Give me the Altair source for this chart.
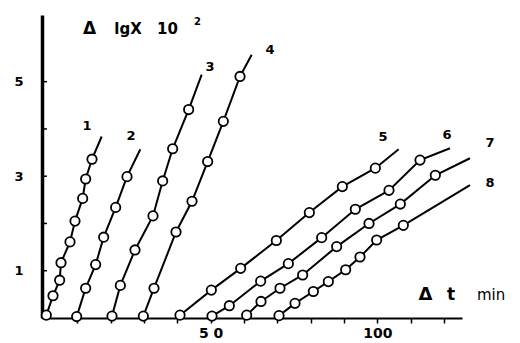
import altair as alt
import pandas as pd

# circle data points of each curve (x = delta t, min ; y = delta lgX * 10^2)
s1_x = [0.7, 2.7, 4.7, 5.1, 7.8, 9.3, 11.6, 12.5, 14.4]
s1_y = [0.06, 0.47, 0.80, 1.17, 1.61, 2.05, 2.53, 2.94, 3.36]
s2_x = [9.8, 12.5, 15.5, 17.9, 21.5, 24.9]
s2_y = [0.03, 0.63, 1.13, 1.71, 2.34, 2.99]
s3_x = [20.4, 22.9, 27.3, 32.7, 35.6, 38.6, 43.4]
s3_y = [0.04, 0.69, 1.44, 2.16, 2.90, 3.58, 4.41]
s4_x = [29.8, 33.0, 39.6, 44.4, 49.1, 53.8, 58.8]
s4_y = [0.04, 0.63, 1.82, 2.47, 3.31, 4.16, 5.11]
s5_x = [40.8, 50.2, 59.0, 69.7, 79.6, 89.5, 99.4]
s5_y = [0.06, 0.59, 1.05, 1.64, 2.23, 2.78, 3.17]
s6_x = [50.4, 55.6, 65.0, 73.3, 83.3, 93.4, 103.5, 112.8]
s6_y = [0.04, 0.26, 0.78, 1.15, 1.70, 2.30, 2.70, 3.34]
s7_x = [60.8, 65.1, 70.8, 77.6, 87.8, 97.5, 106.9, 117.4]
s7_y = [0.06, 0.35, 0.63, 0.91, 1.51, 2.00, 2.41, 3.02]
s8_x = [70.5, 75.3, 80.8, 85.3, 90.5, 94.8, 99.8, 107.8]
s8_y = [0.05, 0.31, 0.56, 0.77, 1.02, 1.29, 1.65, 1.96]

# where each drawn line ends (beyond its last point)
end_x = [17.3, 28.9, 47.3, 62.3, 106.4, 121.8, 127.8, 127.8]
end_y = [3.84, 3.57, 5.15, 5.57, 3.57, 3.59, 3.38, 2.81]

# curve number labels
series_names = ["1", "2", "3", "4", "5", "6", "7", "8"]
label_x = [12.9, 26.1, 49.8, 67.8, 101.7, 120.9, 133.8, 133.8]
label_y = [4.06, 3.85, 5.31, 5.67, 3.83, 3.87, 3.70, 2.85]

x_tick_values = [10, 20, 30, 40, 50, 60, 70, 80, 90, 100, 110, 120]
y_tick_values = [1, 2, 3, 4, 5]
y_label_values = [1, 3, 5]

xs = [s1_x, s2_x, s3_x, s4_x, s5_x, s6_x, s7_x, s8_x]
ys = [s1_y, s2_y, s3_y, s4_y, s5_y, s6_y, s7_y, s8_y]

pt_rows, line_rows = [], []
for i, name in enumerate(series_names):
    for x, y in zip(xs[i], ys[i]):
        pt_rows.append({"s": name, "x": x, "y": y})
        line_rows.append({"s": name, "x": x, "y": y})
    line_rows.append({"s": name, "x": end_x[i], "y": end_y[i]})
pts = pd.DataFrame(pt_rows)
lines = pd.DataFrame(line_rows)
labels = pd.DataFrame({"s": series_names, "x": label_x, "y": label_y})
yticks = pd.DataFrame({"y": y_tick_values})

FONT = "DejaVu Sans"

x_axis = alt.Axis(
    values=x_tick_values,
    labelExpr="datum.value == 50 ? '5 0' : (datum.value == 100 ? '100' : '')",
    title=None, grid=False, domainColor="black", domainWidth=2.2,
    tickColor="black", tickWidth=1.5, tickSize=5,
    labelFont=FONT, labelFontWeight="bold", labelFontSize=14, labelColor="black",
    labelPadding=3, labelOverlap=False, labelFlush=False,
)
y_axis = alt.Axis(
    values=y_label_values, ticks=False, title=None, grid=False,
    domainColor="black", domainWidth=3.5,
    labelFont=FONT, labelFontWeight="bold", labelFontSize=13, labelColor="black",
    labelPadding=19, labelOverlap=False, labelFlush=False,
)
x_scale = alt.Scale(domain=[-0.6, 125.4], nice=False, zero=False)
y_scale = alt.Scale(domain=[0, 6.41], nice=False, zero=False)

X = alt.X("x:Q", scale=x_scale, axis=x_axis)
Y = alt.Y("y:Q", scale=y_scale, axis=y_axis)

line_layer = alt.Chart(lines).mark_line(color="black", strokeWidth=2).encode(
    x=X, y=Y, detail="s:N", order="x:Q"
)
pt_layer = alt.Chart(pts).mark_point(
    shape="circle", filled=True, fill="white", stroke="black",
    strokeWidth=1.8, size=88, opacity=1
).encode(x=X, y=Y)
lab_layer = alt.Chart(labels).mark_text(
    font=FONT, fontWeight="bold", fontSize=13, color="black",
    align="center", baseline="middle"
).encode(x=X, y=Y, text="s:N")
tick_layer = alt.Chart(yticks).mark_rule(color="black", strokeWidth=1.5).encode(
    y=Y, x=alt.value(0), x2=alt.value(5)
)


def note(txt, px, py, size, weight="bold", align="center"):
    return alt.Chart(pd.DataFrame({"t": [txt]})).mark_text(
        font=FONT, fontSize=size, fontWeight=weight, color="black",
        align=align, baseline="alphabetic"
    ).encode(x=alt.value(px), y=alt.value(py), text="t:N")


notes = [
    note("Δ", 47.5, 19, 17),
    note("lgX", 86, 18.5, 15),
    note("10", 125.5, 18.5, 15),
    note("2", 155.5, 10, 10),
    note("Δ", 383.5, 285, 18),
    note("t", 409, 285, 17),
    note("min", 435, 285, 15, weight="normal", align="left"),
]

chart = alt.layer(line_layer, pt_layer, lab_layer, tick_layer, *notes).properties(
    width=420, height=303,
    padding={"left": 34, "top": 7, "right": 50, "bottom": 24},
    autosize=alt.AutoSizeParams(type="none"),
).configure_view(stroke=None)

chart.save("out.html", embed_options={"renderer": "svg", "actions": False})
